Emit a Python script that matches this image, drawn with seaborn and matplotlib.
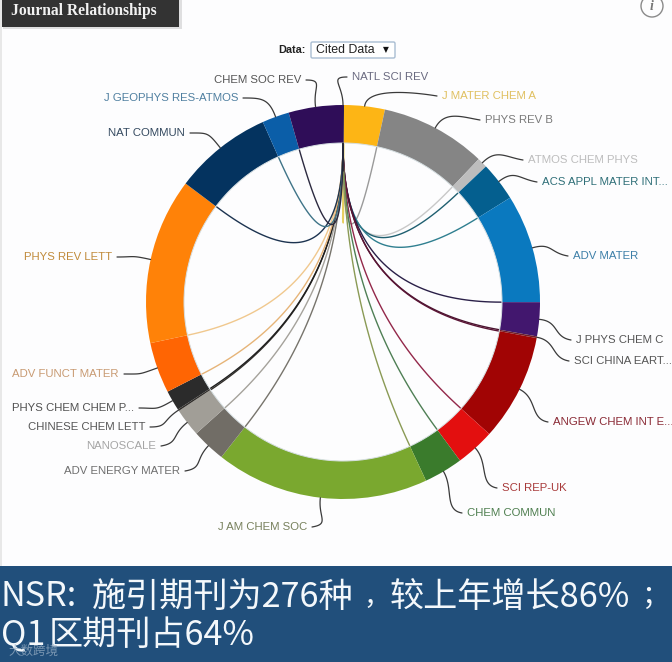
import numpy as np
import pandas as pd
import matplotlib
matplotlib.use("Agg")
import matplotlib.pyplot as plt
from matplotlib.patches import Rectangle, Circle, FancyBboxPatch
import seaborn as sns

journals = ["NATL SCI REV", "J MATER CHEM A", "PHYS REV B", "ATMOS CHEM PHYS", "ACS APPL MATER INT...",
            "ADV MATER", "J PHYS CHEM C", "SCI CHINA EART...", "ANGEW CHEM INT E...", "SCI REP-UK",
            "CHEM COMMUN", "J AM CHEM SOC", "ADV ENERGY MATER", "NANOSCALE", "CHINESE CHEM LETT",
            "PHYS CHEM CHEM P...", "ADV FUNCT MATER", "PHYS REV LETT", "NAT COMMUN",
            "J GEOPHYS RES-ATMOS", "CHEM SOC REV"]
shares = [0.3, 12, 31.2, 3, 11.5, 32, 10, 0.5, 31.5, 11.5, 11.5, 63, 10, 8.3, 0.5, 6, 15, 49, 29, 8, 16]
colors = ["#2a1a50", "#fdb515", "#858585", "#bdbdbd", "#045f8f", "#0a79bf", "#42176e", "#6d1f2a",
          "#a10404", "#e30f0f", "#3a7b2c", "#7aa82f", "#716d66", "#a19e97", "#33302c", "#2b2b2b",
          "#ff6503", "#ff8208", "#04335f", "#0b5ea8", "#2f0d58"]
chord_tints = ["#2a1a50", "#e8cf60", "#9a9a9a", "#c8c8c8", "#1f5f70", "#2f7f90", "#2a2048", "#4a1530",
               "#5a1535", "#93284a", "#4f7f55", "#8a9a55", "#77746c", "#a5a29b", "#33302c", "#1f1f1f",
               "#e6b478", "#f0c88e", "#1c3350", "#3f7488", "#2c2a40"]
label_colors = ["#6a6a80", "#e0c060", "#7a7a7a", "#bdbdbd", "#2f6f78", "#3d7fa8", "#555555", "#555555",
                "#8a2a35", "#a83a3a", "#4f7f50", "#77805c", "#6f6f6f", "#a5a5a5", "#555555", "#505050",
                "#c89a72", "#c08a3a", "#354a60", "#4f7fa0", "#555555"]
label_x = [352, 442, 485, 528, 542, 573, 576, 574, 553, 502, 467, 307, 180, 156, 145, 134, 119, 112, 185, 238, 301]
label_y = [77, 96, 120, 160, 182, 256, 340, 361, 422, 488, 513, 527, 471, 446, 427, 408, 374, 257, 133, 98, 80]
caption_parts = ["NSR:", "施引期刊为276种", "，", "较上年增长86%", "；", "Q1", "区期刊占64%"]
caption_x = [1, 92, 363, 390, 642, 1, 49]
caption_y = [597, 597, 597, 597, 597, 635, 635]
caption_size = [24.6, 24.6, 19, 24.6, 20, 24.6, 24.6]

W, H = 672, 662
CX, CY, R_OUT, R_IN = 343, 302, 197, 159

sns.set_theme(style="white")
plt.rcParams["font.family"] = ["Liberation Sans", "DejaVu Sans"]
fig = plt.figure(figsize=(W / 100, H / 100), dpi=100, facecolor="#fdfdfe")
ax = fig.add_axes([0, 0, 1, 1])


def fy(y):
    return H - np.asarray(y, dtype=float)


def polar(angle, r):
    a = np.deg2rad(angle)
    return CX + r * np.sin(a), fy(CY - r * np.cos(a))


def bezier(p0, p1, p2, p3=None, n=60):
    t = np.linspace(0, 1, n)[:, None]
    p0, p1, p2 = map(np.asarray, (p0, p1, p2))
    if p3 is None:
        return (1 - t) ** 2 * p0 + 2 * t * (1 - t) * p1 + t ** 2 * p2
    p3 = np.asarray(p3)
    return (1 - t) ** 3 * p0 + 3 * t * (1 - t) ** 2 * p1 + 3 * t ** 2 * (1 - t) * p2 + t ** 3 * p3


# ring
ax.pie(shares, colors=colors, center=(CX, fy(CY)), radius=R_OUT, startangle=90, counterclock=False,
       wedgeprops=dict(width=R_OUT - R_IN, linewidth=0), frame=True)
ax.add_patch(Circle((CX, fy(CY)), R_IN, fill=False, ec="#d6dfe2", lw=0.7))

cum = np.cumsum(shares)
starts = np.concatenate([[0], cum[:-1]]) * 360 / cum[-1]
mids = starts + np.asarray(shares) * 180 / cum[-1]

# chords: from the source journal at the top to the start of each target arc
rows = []
src = polar(0, R_IN - 1)
ctr = (CX, fy(CY))
for j, s in zip(journals[1:], starts[1:]):
    pts = bezier(src, ctr, polar(s, R_IN - 1))
    rows.append(pd.DataFrame({"x": pts[:, 0], "y": pts[:, 1], "journal": j}))
chords = pd.concat(rows)
sns.lineplot(data=chords, x="x", y="y", hue="journal", palette=dict(zip(journals, chord_tints)), sort=False,
             estimator=None, units="journal", linewidth=1.0, legend=False, ax=ax, zorder=3)
# short dark stem and yellow tip where the chords meet
ax.plot([CX, CX], [fy(CY - R_IN), fy(CY - R_IN + 28)], color="#222233", lw=1.1, zorder=4)
ax.plot([CX + 1, CX], [fy(CY - R_IN + 26), fy(CY - R_IN + 76)], color="#e6d060", lw=1.6, zorder=2, alpha=0.7)

# leaders and labels
for i, (name, m, lx, ly, lc) in enumerate(zip(journals, mids, label_x, label_y, label_colors)):
    left_side = m > 180 and i > 0
    end = np.array([lx + (5 if left_side else -5), fy(ly)])
    if i == 0:
        m = 0
    p0 = np.array(polar(m, R_OUT))
    p1 = np.array(polar(m, R_OUT + 20))
    p2 = end + np.array([(18 if left_side else -18), 3 if abs(end[1] - p1[1]) > 8 else 0])
    pts = bezier(p0, p1, p2, end, n=30)
    sns.lineplot(x=pts[:, 0], y=pts[:, 1], color="#3a3a3a", lw=0.9, sort=False, estimator=None, ax=ax, zorder=1)
    ax.text(lx, fy(ly), name, ha="right" if left_side else "left", va="center", fontsize=8.2, color=lc)

# header
ax.add_patch(Rectangle((3, fy(29)), 179, 29, color="#cccccc", alpha=0.6, lw=0, zorder=4))
ax.add_patch(Rectangle((2, fy(27)), 177, 27, color="#333333", lw=0, zorder=5))
ax.text(11, fy(11), "Journal Relationships", color="#f2f2f2", fontsize=11.2, fontweight="bold",
        family="Liberation Serif", va="center", zorder=6)
ax.text(306, fy(50), "Data:", ha="right", va="center", fontsize=7.8, fontweight="bold", color="#222222")
ax.add_patch(FancyBboxPatch((311, fy(58)), 84, 16, boxstyle="round,pad=0,rounding_size=1.5", fc="white",
                            ec="#a9bdd2", lw=1))
ax.text(316, fy(50), "Cited Data", ha="left", va="center", fontsize=8.9, color="#222222")
ax.text(386, fy(49.5), "▼", ha="center", va="center", fontsize=5.5, color="#111111", family="DejaVu Sans")
ax.add_patch(Circle((652, fy(6)), 11, fc="none", ec="#8a8a8a", lw=1))
ax.text(652, fy(6), "i", ha="center", va="center", fontsize=10, style="italic", fontweight="bold",
        family="Liberation Serif", color="#777777")
ax.add_patch(Rectangle((0, 0), 2, H, color="#e8e8e8", lw=0, zorder=0))

# caption banner
ax.add_patch(Rectangle((0, 0), W, fy(566), color="#214f7b", lw=0, zorder=6))
cjk = ["Noto Sans CJK SC", "DejaVu Sans"]
for part, px, py, fs in zip(caption_parts, caption_x, caption_y, caption_size):
    ax.text(px, fy(py), part, color="#f4f8fb", fontsize=fs, family=cjk, ha="left", va="center", zorder=7)
ax.text(8, fy(651), "大数跨境", color="#9fb4c8", fontsize=9, family=cjk, ha="left", va="center", zorder=8, alpha=0.7)

ax.set(xlim=(0, W), ylim=(0, H), xlabel="", ylabel="", xticks=[], yticks=[])
ax.set_aspect("equal")
ax.axis("off")
fig.savefig("out.png", dpi=100, facecolor=fig.get_facecolor())
